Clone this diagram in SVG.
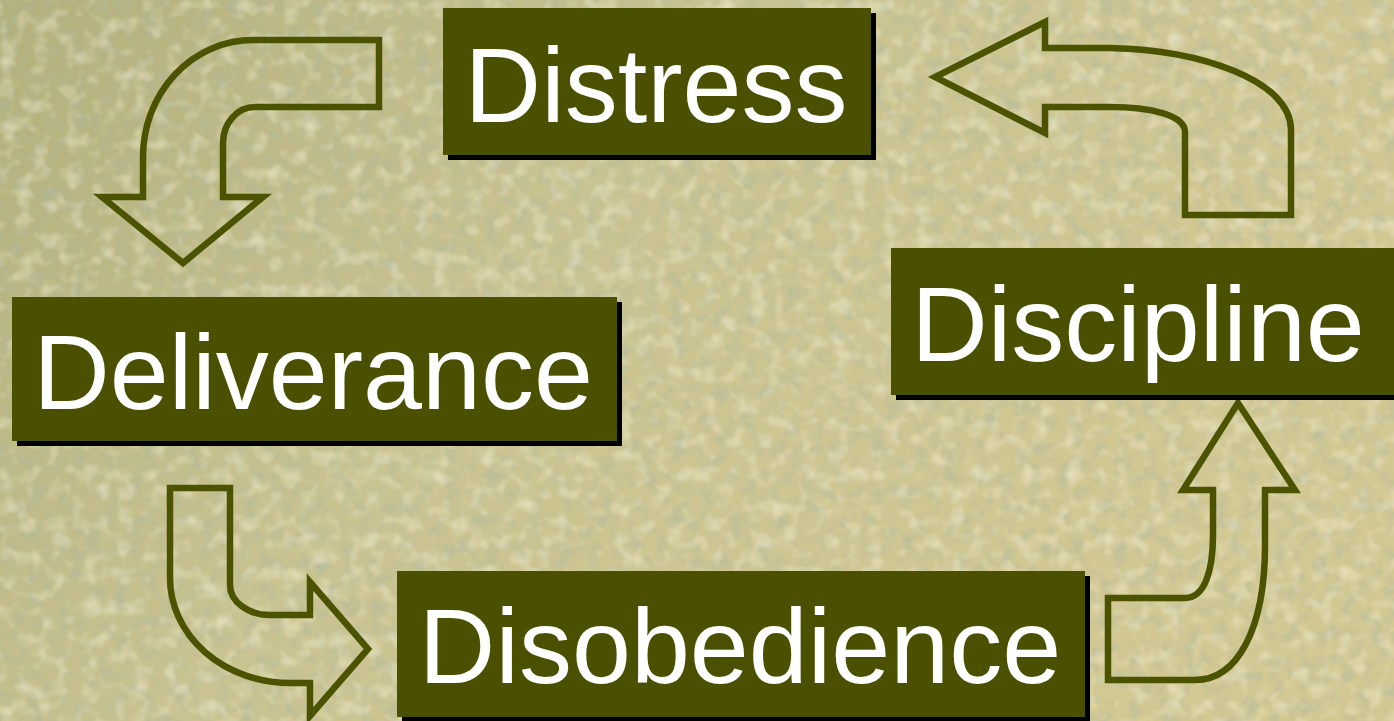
<svg xmlns="http://www.w3.org/2000/svg" width="1394" height="721" viewBox="0 0 1394 721">
<defs>
<linearGradient id="bg" x1="0" y1="0" x2="1" y2="0.4">
<stop offset="0" stop-color="#B3B07C"/>
<stop offset="0.45" stop-color="#C9C391"/>
<stop offset="1" stop-color="#D2C893"/>
</linearGradient>
<filter id="tex" x="0" y="0" width="100%" height="100%">
<feTurbulence type="fractalNoise" baseFrequency="0.07" numOctaves="3" seed="7"/>
<feColorMatrix type="matrix" values="0 0 0 0 0.42  0 0 0 0 0.48  0 0 0 0 0.36  2.2 0 0 0 -1.0"/>
</filter>
<filter id="tex2" x="0" y="0" width="100%" height="100%">
<feTurbulence type="fractalNoise" baseFrequency="0.06" numOctaves="2" seed="3"/>
<feColorMatrix type="matrix" values="0 0 0 0 0.96  0 0 0 0 0.92  0 0 0 0 0.72  0 2.0 0 0 -0.95"/>
</filter>
</defs>
<style>
.box{fill:#4B5000}
.shadow{fill:#000}
.label{font-family:"Liberation Sans",Arial,sans-serif;font-size:106px;fill:#fff;text-anchor:middle}
.arrow{fill:none;stroke:#4B5300;stroke-width:6.5;stroke-linejoin:miter}
</style>
<rect width="1394" height="721" fill="url(#bg)"/>
<rect width="1394" height="721" filter="url(#tex)" opacity="0.6"/>
<rect width="1394" height="721" filter="url(#tex2)" opacity="0.6"/>
<g id="connectors">
<path class="arrow" d="M379,40 H253 A110,117 0 0 0 143,157 V197 H102 L183,263 L263,197 H223 V143 A32,36 0 0 1 255,107 H379 Z"/>
<path class="arrow" d="M1045,48 H1110 C1200,50 1291,80 1291,130 V215 H1185 V132 C1185,115 1150,107 1110,107 H1045 V133 L935,77 L1045,22 Z"/>
<path class="arrow" d="M170,488 H230 V585 A40,30 0 0 0 270,615 H310 V582 L368,649 L310,716 V683 H290 A120,105 0 0 1 170,578 Z"/>
<path class="arrow" d="M1238,403 L1295,490 H1265 V545 C1265,630 1237,680 1195,680 H1108 V598 H1185 C1205,598 1213,570 1213,535 V490 H1183 Z"/>
</g>
<g id="distress">
<rect class="shadow" x="448" y="13" width="428" height="147"/>
<rect class="box" x="443" y="8" width="428" height="147"/>
<text class="label" x="656" y="122">Distress</text>
</g>
<g id="discipline">
<rect class="shadow" x="896" y="253" width="510" height="147"/>
<rect class="box" x="891" y="248" width="510" height="147"/>
<text class="label" x="1138" y="361">Discipline</text>
</g>
<g id="deliverance">
<rect class="shadow" x="17" y="302" width="605" height="144"/>
<rect class="box" x="12" y="297" width="605" height="144"/>
<text class="label" x="313" y="409">Deliverance</text>
</g>
<g id="disobedience">
<rect class="shadow" x="402" y="576" width="688" height="150"/>
<rect class="box" x="397" y="571" width="688" height="146"/>
<text class="label" x="740" y="683">Disobedience</text>
</g>
</svg>
